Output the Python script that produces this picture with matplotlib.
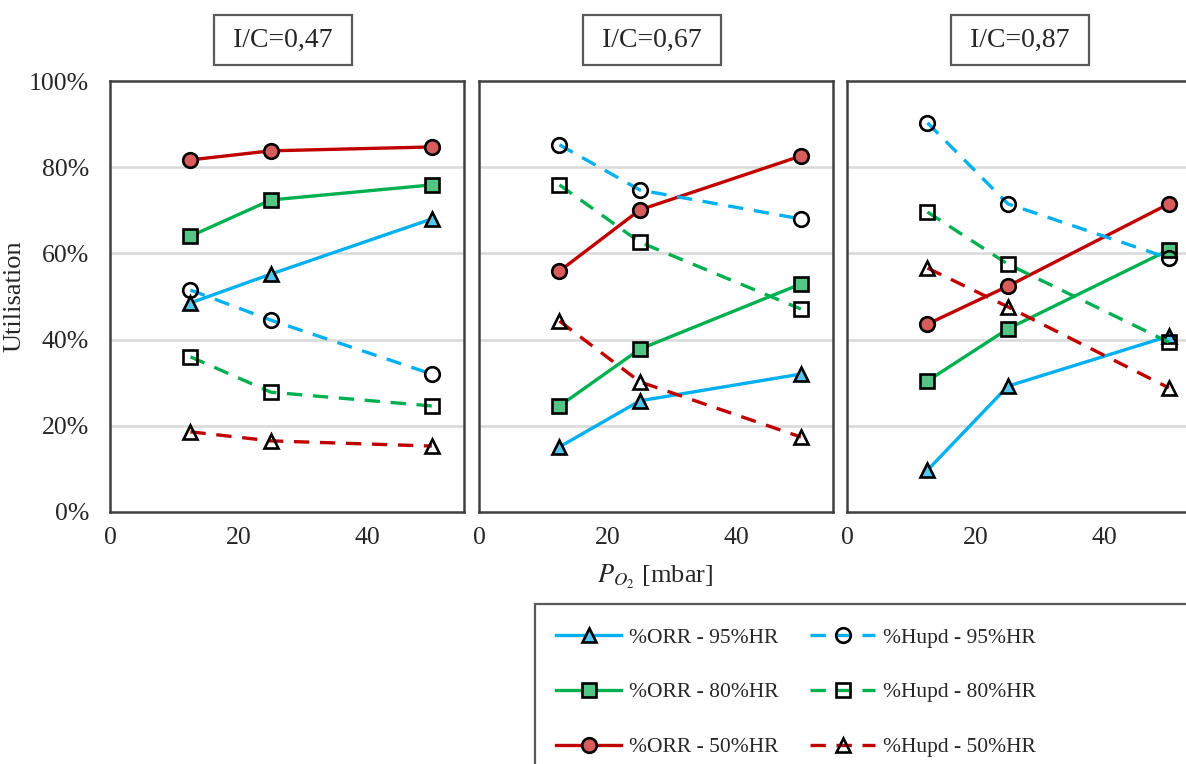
import matplotlib
matplotlib.use("Agg")
import matplotlib.pyplot as plt
from matplotlib.ticker import FuncFormatter
from matplotlib.patches import Rectangle

plt.rcParams['font.family'] = ['Liberation Serif', 'DejaVu Serif']
plt.rcParams['mathtext.fontset'] = 'stix'

# ---- data ----
panel_titles = ["I/C=0,47", "I/C=0,67", "I/C=0,87"]
p_o2 = [12.5, 25, 50]

orr_95 = [[48.5, 55.2, 68.0], [15.1, 25.8, 32.0], [9.7, 29.2, 40.8]]
orr_80 = [[64.0, 72.4, 75.9], [24.6, 37.8, 52.9], [30.4, 42.5, 60.8]]
orr_50 = [[81.7, 83.8, 84.7], [55.9, 70.1, 82.6], [43.6, 52.4, 71.5]]
hupd_95 = [[51.5, 44.5, 32.0], [85.2, 74.7, 68.0], [90.3, 71.5, 58.9]]
hupd_80 = [[36.0, 27.8, 24.6], [75.9, 62.6, 47.1], [69.6, 57.5, 39.4]]
hupd_50 = [[18.6, 16.5, 15.3], [44.3, 30.2, 17.4], [56.6, 47.6, 28.8]]

labels_orr = ["%ORR - 95%HR", "%ORR - 80%HR", "%ORR - 50%HR"]
labels_hupd = ["%Hupd - 95%HR", "%Hupd - 80%HR", "%Hupd - 50%HR"]

x_ticks = [0, 20, 40]
y_ticks = [0, 20, 40, 60, 80, 100]

# ---- style ----
BLUE, GREEN, RED = "#00b0f0", "#00b050", "#c00000"
BLUE_F, GREEN_F, RED_F = "#55c8f2", "#55c585", "#d95c5c"
LW = 2.4
MS = 10.5
MEW = 1.9
DASH = (4.6, 3.2)
TXT = "#262626"

fig = plt.figure(figsize=(11.86, 7.64), dpi=100)
W, H = 1186, 764
lefts = [110, 479, 847]
ax_w, top, bottom = 354, 81, 512

axes = []
handles = []
for i in range(3):
    ax = fig.add_axes([lefts[i] / W, 1 - bottom / H, ax_w / W, (bottom - top) / H])
    axes.append(ax)
    ax.set_xlim(0, 55)
    ax.set_ylim(0, 100)
    ax.set_xticks(x_ticks)
    ax.set_yticks(y_ticks)
    for y in [20, 40, 60, 80]:
        ax.axhline(y, color="#d9d9d9", lw=1.8, zorder=0)
    for s in ax.spines.values():
        s.set_color("#404040")
        s.set_linewidth(1.8)
    ax.tick_params(length=0, labelsize=18.5, colors=TXT, pad=11)
    ax.tick_params(axis='y', pad=15)
    ax.yaxis.set_major_formatter(FuncFormatter(lambda v, p: f"{int(v)}%"))
    if i > 0:
        ax.set_yticklabels([])

    h1, = ax.plot(p_o2, orr_95[i], color=BLUE, lw=LW, marker="^", ms=MS,
                  mfc=BLUE_F, mec="black", mew=MEW, label=labels_orr[0], zorder=3)
    h2, = ax.plot(p_o2, orr_80[i], color=GREEN, lw=LW, marker="s", ms=MS - 0.5,
                  mfc=GREEN_F, mec="black", mew=MEW, label=labels_orr[1], zorder=3)
    h3, = ax.plot(p_o2, orr_50[i], color=RED, lw=LW, marker="o", ms=MS,
                  mfc=RED_F, mec="black", mew=MEW, label=labels_orr[2], zorder=3)
    h4, = ax.plot(p_o2, hupd_95[i], color=BLUE, lw=LW, dashes=DASH, marker="o", ms=MS,
                  mfc="none", mec="black", mew=MEW, label=labels_hupd[0], zorder=3)
    h5, = ax.plot(p_o2, hupd_80[i], color=GREEN, lw=LW, dashes=DASH, marker="s", ms=MS - 0.5,
                  mfc="none", mec="black", mew=MEW, label=labels_hupd[1], zorder=3)
    h6, = ax.plot(p_o2, hupd_50[i], color=RED, lw=LW, dashes=DASH, marker="^", ms=MS,
                  mfc="none", mec="black", mew=MEW, label=labels_hupd[2], zorder=3)
    handles = [h1, h2, h3, h4, h5, h6]

    cx = (lefts[i] + ax_w / 2 - 4) / W
    fig.text(cx, 1 - 40 / H, " " + panel_titles[i] + " ", ha="center", va="center",
             fontsize=20, color=TXT,
             bbox=dict(boxstyle="square,pad=0.45", fc="white", ec="#595959", lw=1.6))

axes[0].set_ylabel("Utilisation", fontsize=19, color=TXT)
axes[0].yaxis.set_label_coords(-0.24, 0.5)
fig.text(655 / W, 1 - 577 / H, r"$P_{O_2}$ [mbar]", ha="center", va="center",
         fontsize=19, color=TXT)

# legend frame (extends past the figure edges, as in the reference)
fig.patches.append(Rectangle((535 / W, -0.05), 0.6, (1 - 604 / H) + 0.05,
                             transform=fig.transFigure, fill=False,
                             ec="#595959", lw=1.6, zorder=1))
leg = fig.legend(handles=handles, loc="upper left",
                 bbox_to_anchor=(550 / W, 1 - 621 / H), ncol=2,
                 fontsize=15.5, frameon=False,
                 handlelength=3.0, handletextpad=0.35, columnspacing=1.5,
                 labelspacing=1.62, borderpad=0.3, borderaxespad=0)
for t in leg.get_texts():
    t.set_color(TXT)

fig.savefig("out.png", dpi=100)
